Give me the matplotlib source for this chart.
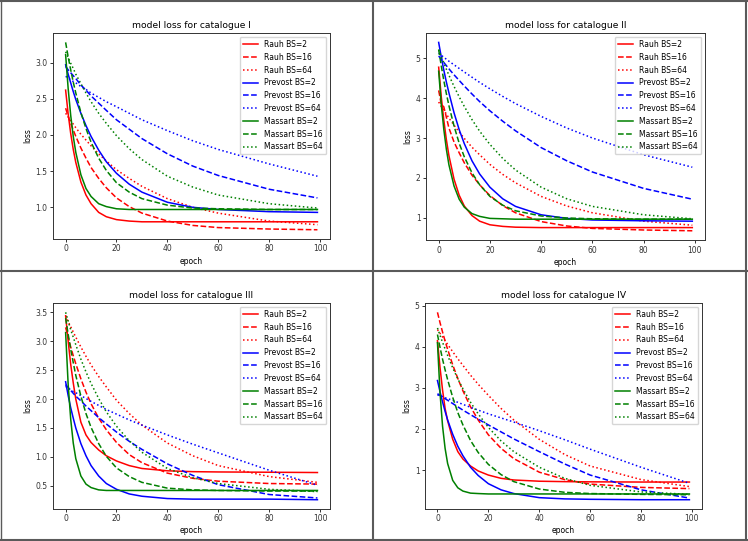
import matplotlib
matplotlib.use("Agg")
import matplotlib.pyplot as plt
from matplotlib.lines import Line2D

# sampled epochs (same for every run)
epochs = [0, 1, 2, 3, 4, 6, 8, 10, 13, 16, 20, 25, 30, 40, 50, 60, 80, 99]

labels = ["Rauh BS=2", "Rauh BS=16", "Rauh BS=64",
          "Prevost BS=2", "Prevost BS=16", "Prevost BS=64",
          "Massart BS=2", "Massart BS=16", "Massart BS=64"]
colors = ["r", "r", "r", "b", "b", "b", "g", "g", "g"]
styles = ["-", "--", ":", "-", "--", ":", "-", "--", ":"]

titles = ["model loss for catalogue I", "model loss for catalogue II",
          "model loss for catalogue III", "model loss for catalogue IV"]

loss_I = [
    [2.62, 2.29, 2.02, 1.80, 1.62, 1.35, 1.17, 1.05, 0.93, 0.87, 0.83, 0.81, 0.80, 0.80, 0.80, 0.80, 0.80, 0.80],
    [2.37, 2.26, 2.16, 2.07, 1.98, 1.82, 1.68, 1.55, 1.40, 1.27, 1.13, 1.01, 0.92, 0.81, 0.75, 0.72, 0.70, 0.69],
    [2.30, 2.25, 2.20, 2.15, 2.10, 2.01, 1.93, 1.85, 1.74, 1.64, 1.52, 1.40, 1.29, 1.12, 1.00, 0.92, 0.81, 0.76],
    [2.97, 2.84, 2.72, 2.60, 2.49, 2.30, 2.13, 1.98, 1.79, 1.63, 1.47, 1.32, 1.21, 1.07, 1.00, 0.97, 0.94, 0.93],
    [2.95, 2.90, 2.86, 2.82, 2.78, 2.69, 2.62, 2.54, 2.44, 2.34, 2.21, 2.08, 1.95, 1.74, 1.57, 1.44, 1.25, 1.13],
    [2.81, 2.79, 2.76, 2.74, 2.72, 2.67, 2.63, 2.58, 2.52, 2.46, 2.39, 2.30, 2.21, 2.06, 1.92, 1.80, 1.60, 1.43],
    [3.11, 2.64, 2.27, 1.98, 1.76, 1.45, 1.26, 1.15, 1.05, 1.01, 0.98, 0.97, 0.97, 0.97, 0.97, 0.97, 0.97, 0.97],
    [3.28, 3.08, 2.90, 2.73, 2.58, 2.31, 2.09, 1.90, 1.68, 1.51, 1.34, 1.21, 1.12, 1.03, 0.99, 0.98, 0.97, 0.97],
    [3.15, 3.07, 2.99, 2.92, 2.84, 2.71, 2.58, 2.46, 2.30, 2.16, 1.99, 1.81, 1.66, 1.43, 1.28, 1.17, 1.05, 0.99],
]

loss_II = [
    [4.77, 4.04, 3.45, 2.96, 2.56, 1.97, 1.57, 1.30, 1.06, 0.92, 0.83, 0.79, 0.77, 0.76, 0.76, 0.76, 0.76, 0.76],
    [4.19, 3.85, 3.78, 3.52, 3.25, 2.90, 2.63, 2.38, 2.07, 1.83, 1.56, 1.31, 1.13, 0.91, 0.80, 0.74, 0.70, 0.68],
    [3.90, 3.79, 3.70, 3.60, 3.50, 3.32, 3.15, 2.99, 2.77, 2.58, 2.34, 2.09, 1.88, 1.54, 1.30, 1.13, 0.92, 0.82],
    [5.39, 5.03, 4.70, 4.40, 4.13, 3.63, 3.21, 2.86, 2.43, 2.10, 1.77, 1.48, 1.29, 1.08, 0.99, 0.95, 0.93, 0.92],
    [5.05, 4.97, 4.89, 4.81, 4.73, 4.58, 4.44, 4.30, 4.10, 3.91, 3.68, 3.42, 3.18, 2.76, 2.43, 2.15, 1.74, 1.47],
    [5.12, 5.07, 5.02, 4.97, 4.92, 4.83, 4.74, 4.65, 4.52, 4.39, 4.23, 4.04, 3.86, 3.54, 3.25, 3.00, 2.58, 2.27],
    [4.67, 3.85, 3.22, 2.72, 2.33, 1.80, 1.47, 1.27, 1.11, 1.04, 0.99, 0.98, 0.97, 0.97, 0.97, 0.97, 0.97, 0.97],
    [5.21, 4.81, 4.44, 4.11, 3.81, 3.30, 2.87, 2.53, 2.13, 1.83, 1.54, 1.32, 1.18, 1.05, 1.00, 0.98, 0.97, 0.97],
    [5.21, 5.04, 4.88, 4.72, 4.57, 4.29, 4.03, 3.79, 3.46, 3.17, 2.84, 2.49, 2.20, 1.77, 1.48, 1.29, 1.08, 0.98],
]

loss_III = [
    [3.44, 3.00, 2.60, 2.28, 2.00, 1.60, 1.38, 1.25, 1.12, 1.02, 0.93, 0.85, 0.80, 0.76, 0.745, 0.74, 0.735, 0.73],
    [3.24, 3.07, 2.90, 2.75, 2.61, 2.35, 2.12, 1.92, 1.67, 1.47, 1.25, 1.04, 0.90, 0.72, 0.63, 0.58, 0.54, 0.53],
    [3.44, 3.34, 3.25, 3.16, 3.07, 2.90, 2.74, 2.59, 2.39, 2.21, 1.98, 1.75, 1.55, 1.24, 1.02, 0.85, 0.66, 0.56],
    [2.30, 2.06, 1.85, 1.67, 1.50, 1.23, 1.02, 0.85, 0.67, 0.54, 0.44, 0.36, 0.32, 0.28, 0.27, 0.27, 0.27, 0.26],
    [2.25, 2.20, 2.15, 2.10, 2.05, 1.97, 1.88, 1.80, 1.68, 1.57, 1.43, 1.27, 1.13, 0.88, 0.68, 0.52, 0.35, 0.29],
    [2.22, 2.19, 2.16, 2.13, 2.11, 2.06, 2.01, 1.96, 1.89, 1.82, 1.74, 1.64, 1.55, 1.38, 1.22, 1.07, 0.77, 0.51],
    [3.15, 2.25, 1.65, 1.24, 0.97, 0.67, 0.53, 0.47, 0.43, 0.42, 0.42, 0.42, 0.42, 0.42, 0.42, 0.42, 0.42, 0.42],
    [3.40, 3.12, 2.86, 2.63, 2.41, 2.05, 1.75, 1.51, 1.23, 1.01, 0.81, 0.66, 0.56, 0.46, 0.43, 0.42, 0.41, 0.41],
    [3.50, 3.35, 3.20, 3.07, 2.94, 2.69, 2.47, 2.27, 2.01, 1.78, 1.53, 1.28, 1.08, 0.80, 0.64, 0.54, 0.44, 0.40],
]

loss_IV = [
    [4.15, 3.50, 2.95, 2.50, 2.20, 1.75, 1.45, 1.27, 1.10, 0.98, 0.88, 0.80, 0.76, 0.73, 0.72, 0.715, 0.71, 0.71],
    [4.84, 4.59, 4.36, 4.14, 3.94, 3.56, 3.23, 2.93, 2.54, 2.22, 1.86, 1.53, 1.28, 0.95, 0.77, 0.66, 0.58, 0.55],
    [4.42, 4.33, 4.24, 4.15, 4.06, 3.88, 3.71, 3.55, 3.31, 3.09, 2.82, 2.50, 2.22, 1.75, 1.38, 1.10, 0.77, 0.60],
    [3.18, 2.91, 2.66, 2.43, 2.22, 1.87, 1.58, 1.35, 1.07, 0.87, 0.67, 0.52, 0.43, 0.33, 0.30, 0.29, 0.28, 0.28],
    [2.86, 2.82, 2.78, 2.74, 2.70, 2.62, 2.54, 2.46, 2.35, 2.24, 2.10, 1.93, 1.76, 1.45, 1.15, 0.88, 0.52, 0.32],
    [2.83, 2.81, 2.79, 2.76, 2.74, 2.70, 2.65, 2.60, 2.53, 2.46, 2.37, 2.27, 2.17, 1.96, 1.74, 1.51, 1.07, 0.68],
    [4.10, 2.89, 2.07, 1.53, 1.16, 0.75, 0.57, 0.49, 0.44, 0.43, 0.42, 0.42, 0.42, 0.42, 0.42, 0.42, 0.42, 0.42],
    [4.30, 3.99, 3.70, 3.44, 3.20, 2.77, 2.40, 2.10, 1.72, 1.43, 1.14, 0.89, 0.72, 0.54, 0.46, 0.43, 0.41, 0.40],
    [4.46, 4.28, 4.11, 3.95, 3.79, 3.49, 3.22, 2.98, 2.65, 2.37, 2.04, 1.71, 1.45, 1.07, 0.80, 0.63, 0.47, 0.41],
]

# each panel is a shrunk default matplotlib figure, so scale everything by ~0.55
s = 0.55
plt.rcParams.update({
    "font.size": 10 * s,
    "lines.linewidth": 1.1,
    "axes.linewidth": 0.7,
    "axes.edgecolor": "#333333",
    "xtick.major.size": 3.5 * s,
    "ytick.major.size": 3.5 * s,
    "xtick.major.width": 0.7,
    "ytick.major.width": 0.7,
    "xtick.major.pad": 3.5 * s,
    "ytick.major.pad": 3.5 * s,
    "xtick.color": "#333333",
    "ytick.color": "#333333",
    "axes.titlepad": 6 * s,
    "axes.labelpad": 4 * s,
    "legend.fontsize": 10 * s,
})

fig = plt.figure(figsize=(7.48, 5.41), dpi=100)

# [left, bottom, width, height] in figure fractions
positions = [
    [0.0709, 0.558, 0.3703, 0.381],
    [0.5695, 0.556, 0.3730, 0.383],
    [0.0709, 0.059, 0.3703, 0.381],
    [0.5680, 0.059, 0.3705, 0.381],
]

for pos, title, data in zip(positions, titles, [loss_I, loss_II, loss_III, loss_IV]):
    ax = fig.add_axes(pos)
    for vals, lab, c, ls in zip(data, labels, colors, styles):
        ax.plot(epochs, vals, color=c, linestyle=ls, label=lab)
    ax.set_title(title)
    ax.set_xlabel("epoch")
    ax.set_ylabel("loss")
    ax.set_xticks([0, 20, 40, 60, 80, 100])
    ax.legend(loc="upper right")

# the grey frame around and between the four pasted images
W, H = 748, 541
border = "#5a5a5a"


def hline(y, x0=0, x1=W, lw=1.5):
    fig.add_artist(Line2D([x0 / W, x1 / W], [1 - y / H, 1 - y / H],
                          transform=fig.transFigure, color=border, lw=lw))


def vline(x, y0=0, y1=H, lw=1.5):
    fig.add_artist(Line2D([x / W, x / W], [1 - y0 / H, 1 - y1 / H],
                          transform=fig.transFigure, color=border, lw=lw))


hline(1)
hline(540)
hline(271)
vline(1, lw=1.0)
vline(746)
vline(373)

fig.savefig("out.png", dpi=100)
